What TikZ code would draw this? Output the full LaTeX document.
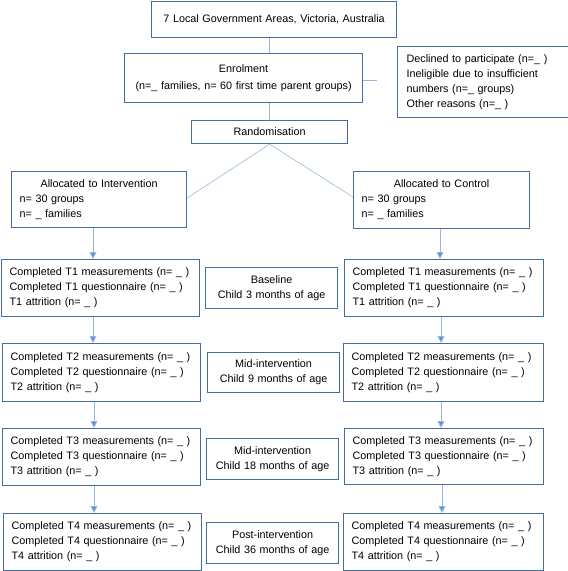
\documentclass[tikz,border=0pt]{standalone}
\usepackage{fontspec}
\setmainfont{Liberation Sans}
\usetikzlibrary{arrows.meta}
\definecolor{boxc}{RGB}{68,108,158}
\definecolor{linec}{RGB}{150,184,222}
\definecolor{arrc}{RGB}{92,140,205}
\tikzset{
  box/.style={draw=boxc, line width=1.2pt, anchor=north west, inner xsep=8pt, inner ysep=0pt,
     font=\fontsize{10.8}{15}\selectfont},
  conn/.style={draw=linec, line width=0.9pt},
  arr/.style={draw=linec, line width=0.9pt, -{Triangle[width=7pt,length=7pt,fill=arrc]}},
}
\begin{document}
\begin{tikzpicture}[x=1pt,y=-1pt]
\useasboundingbox (0,0) rectangle (568,571);
% top
\node[box, text width=229pt, minimum height=36pt, align=center] (lga) at (151,1) {7 Local Government Areas, Victoria, Australia};
\node[box, text width=222pt, minimum height=49pt, align=center, font=\fontsize{10.8}{16.5}\selectfont] (enrol) at (124,53) {Enrolment\\\mbox{(n=\_ families, n= 60 first time parent groups)}};
\node[box, text width=153pt, minimum height=71pt, align=left, inner xsep=9pt] (decl) at (397,46) {\mbox{Declined to participate (n=\_ )}\\\mbox{Ineligible due to insufficient}\\\mbox{numbers (n=\_ groups)}\\\mbox{Other reasons (n=\_ )}};
\node[box, text width=140pt, minimum height=23pt, align=center] (rand) at (191,120) {Randomisation};
\coordinate (ex) at (377,80);
% allocation
\node[box, text width=159pt, minimum height=56pt, align=left] (int) at (11,171) {\makebox[159pt][c]{Allocated to Intervention}\\n= 30 groups\\n= \_ families};
\node[box, text width=160pt, minimum height=57pt, align=left] (ctrl) at (353,171) {\makebox[160pt][c]{Allocated to Control}\\n= 30 groups\\n= \_ families};
% T1
\node[box, text width=182pt, minimum height=57pt, align=left] (t1l) at (1,259) {\mbox{Completed T1 measurements (n= \_ )}\\\mbox{Completed T1 questionnaire (n= \_ )}\\T1 attrition (n= \_ )};
\node[box, text width=116pt, minimum height=41pt, align=center] (m1) at (205,267) {Baseline\\Child 3 months of age};
\node[box, text width=183pt, minimum height=57pt, align=left] (t1r) at (344,259) {\mbox{Completed T1 measurements (n= \_ )}\\\mbox{Completed T1 questionnaire (n= \_ )}\\T1 attrition (n= \_ )};
% T2
\node[box, text width=182pt, minimum height=58pt, align=left] (t2l) at (2,343) {\mbox{Completed T2 measurements (n= \_ )}\\\mbox{Completed T2 questionnaire (n= \_ )}\\T2 attrition (n= \_ )};
\node[box, text width=116pt, minimum height=40pt, align=center] (m2) at (207,352) {Mid-intervention\\Child 9 months of age};
\node[box, text width=184pt, minimum height=58pt, align=left] (t2r) at (343,343) {\mbox{Completed T2 measurements (n= \_ )}\\\mbox{Completed T2 questionnaire (n= \_ )}\\T2 attrition (n= \_ )};
% T3
\node[box, text width=182pt, minimum height=57pt, align=left] (t3l) at (2,428) {\mbox{Completed T3 measurements (n= \_ )}\\\mbox{Completed T3 questionnaire (n= \_ )}\\T3 attrition (n= \_ )};
\node[box, text width=116pt, minimum height=41pt, align=center] (m3) at (206,438) {Mid-intervention\\Child 18 months of age};
\node[box, text width=183pt, minimum height=56pt, align=left] (t3r) at (344,428) {\mbox{Completed T3 measurements (n= \_ )}\\\mbox{Completed T3 questionnaire (n= \_ )}\\T3 attrition (n= \_ )};
% T4
\node[box, text width=182pt, minimum height=57pt, align=left] (t4l) at (3,513) {\mbox{Completed T4 measurements (n= \_ )}\\\mbox{Completed T4 questionnaire (n= \_ )}\\T4 attrition (n= \_ )};
\node[box, text width=116pt, minimum height=41pt, align=center] (m4) at (206,522) {Post-intervention\\Child 36 months of age};
\node[box, text width=184pt, minimum height=57pt, align=left] (t4r) at (343,513) {\mbox{Completed T4 measurements (n= \_ )}\\\mbox{Completed T4 questionnaire (n= \_ )}\\T4 attrition (n= \_ )};
% connectors
\draw[conn] (lga.south -| rand.south) -- (enrol.north -| rand.south);
\draw[conn] (enrol.south -| rand.south) -- (rand.north);
\draw[conn] (enrol.east |- ex) -- (ex);
\draw[conn, line width=0.6pt] (rand.south) -- (int.east |- 0,198);
\draw[conn, line width=0.6pt] (rand.south) -- (ctrl.west |- 0,197);
\draw[arr] (int.south -| 93,0) -- (t1l.north -| 93,0);
\draw[arr] (t1l.south -| 93,0) -- (t2l.north -| 93,0);
\draw[arr] (t2l.south -| 94,0) -- (t3l.north -| 94,0);
\draw[arr] (t3l.south -| 94,0) -- (t4l.north -| 94,0);
\draw[arr] (ctrl.south -| 440,0) -- (t1r.north -| 440,0);
\draw[arr] (t1r.south -| 441,0) -- (t2r.north -| 441,0);
\draw[arr] (t2r.south -| 441,0) -- (t3r.north -| 441,0);
\draw[arr] (t3r.south -| 442,0) -- (t4r.north -| 442,0);
\end{tikzpicture}
\end{document}
